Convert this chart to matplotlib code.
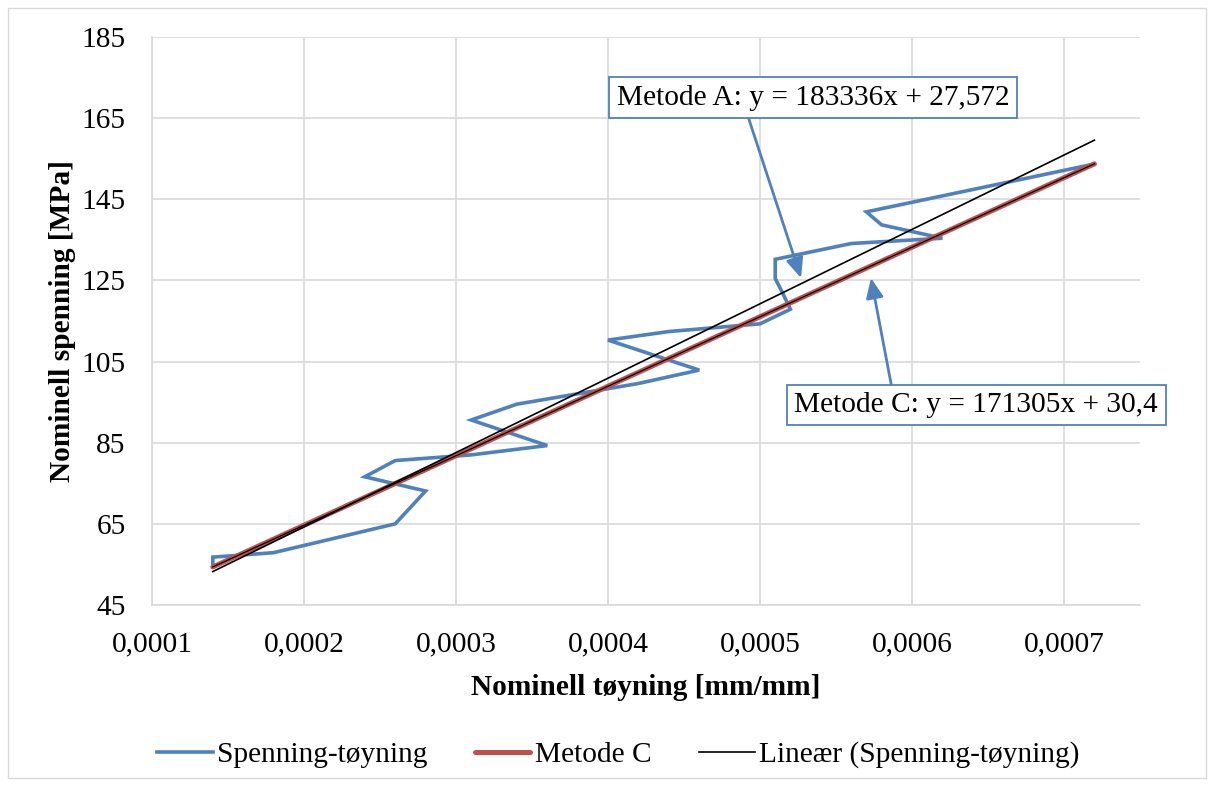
import matplotlib
matplotlib.use('Agg')
import matplotlib.pyplot as plt
from matplotlib.patches import Rectangle
from matplotlib.ticker import FuncFormatter

plt.rcParams['font.family'] = ['Liberation Serif', 'DejaVu Serif']

# Spenning-tøyning (målte punkter)
toyning = [0.00014, 0.00014, 0.00018, 0.00026, 0.00028, 0.00024, 0.00026, 0.00031,
           0.00036, 0.00031, 0.00034, 0.00042, 0.00046, 0.00040, 0.00044, 0.00050,
           0.00052, 0.000515, 0.00051, 0.00051, 0.00056, 0.00062, 0.00058, 0.00057,
           0.00072]
spenning = [54.5, 56.8, 57.9, 65.0, 73.1, 76.6, 80.6, 82.0,
            84.3, 90.6, 94.5, 99.6, 102.9, 110.3, 112.4, 114.3,
            117.9, 121.8, 125.5, 130.2, 134.1, 135.4, 138.7, 141.9,
            153.7]

# Metode C: y = 171305x + 30,4 (endepunkter)
metode_c_x = [0.00014, 0.00072]
metode_c_y = [54.38, 153.74]

# Lineær trendlinje (Metode A): y = 183336x + 27,572
trend_x = [0.00014, 0.00072]
trend_y = [53.24, 159.57]

x_ticks = [0.0001, 0.0002, 0.0003, 0.0004, 0.0005, 0.0006, 0.0007]
y_ticks = [45, 65, 85, 105, 125, 145, 165, 185]

blue = '#4F81BD'
red = '#C0504D'
grid_color = '#D9D9D9'
fs = 21.2

fig = plt.figure(figsize=(12.15, 7.87), dpi=100)
# ytre ramme
fig.patches.append(Rectangle((8/1215, 9/787), 1198/1215, 770/787, transform=fig.transFigure,
                             fill=False, edgecolor=grid_color, linewidth=1))

ax = fig.add_axes([152/1215, 1-605/787, 988/1215, 568/787])

l1, = ax.plot(toyning, spenning, color=blue, lw=2.6, solid_joinstyle='miter', zorder=3,
              label='Spenning-tøyning')
l2, = ax.plot(metode_c_x, metode_c_y, color=red, lw=3.6, solid_capstyle='round', zorder=4,
              label='Metode C')
ax.plot(metode_c_x, metode_c_y, color='black', lw=0.9, zorder=5)
l3, = ax.plot(trend_x, trend_y, color='black', lw=1.2, zorder=5,
              label='Lineær (Spenning-tøyning)')

ax.set_xlim(0.0001, 0.00075)
ax.set_ylim(45, 185)
ax.set_xticks(x_ticks)
ax.set_yticks(y_ticks)
ax.xaxis.set_major_formatter(FuncFormatter(lambda v, p: ('%.4f' % v).replace('.', ',')))
ax.grid(True, color=grid_color, lw=1.2)
ax.set_axisbelow(True)
for s in ['top', 'right']:
    ax.spines[s].set_visible(False)
for s in ['left', 'bottom']:
    ax.spines[s].set_color(grid_color)
    ax.spines[s].set_linewidth(1.2)
ax.tick_params(axis='both', length=0, labelsize=fs)
ax.tick_params(axis='y', pad=19)
ax.tick_params(axis='x', pad=19)

ax.set_xlabel('Nominell tøyning [mm/mm]', fontsize=fs, fontweight='bold', labelpad=12)
ax.set_ylabel('Nominell spenning [MPa]', fontsize=fs, fontweight='bold', labelpad=4)

box = dict(boxstyle='square,pad=0.25', fc='white', ec=blue, lw=1.3)
ax.annotate('Metode A: y = 183336x + 27,572', xy=(0.000527, 125.6), xytext=(0.0005348, 170.0),
            fontsize=fs, ha='center', va='center', bbox=box, zorder=6,
            arrowprops=dict(arrowstyle='-|>,head_length=0.8,head_width=0.35', color=blue, lw=2,
                            mutation_scale=15, shrinkA=0, shrinkB=0,
                            relpos=(0.33, 0.0)))
ax.annotate('Metode C: y = 171305x + 30,4', xy=(0.000573, 125.6), xytext=(0.0006423, 94.3),
            fontsize=fs, ha='center', va='center', bbox=box, zorder=6,
            arrowprops=dict(arrowstyle='-|>,head_length=0.8,head_width=0.35', color=blue, lw=2,
                            mutation_scale=15, shrinkA=0, shrinkB=0,
                            relpos=(0.27, 1.0)))

fig.legend(handles=[l1, l2, l3], loc='center', bbox_to_anchor=(618/1215, 1-755/787),
           ncol=3, frameon=False, fontsize=fs, handlelength=1.9, handletextpad=0.15,
           columnspacing=1.6)

fig.savefig('out.png', dpi=100)
